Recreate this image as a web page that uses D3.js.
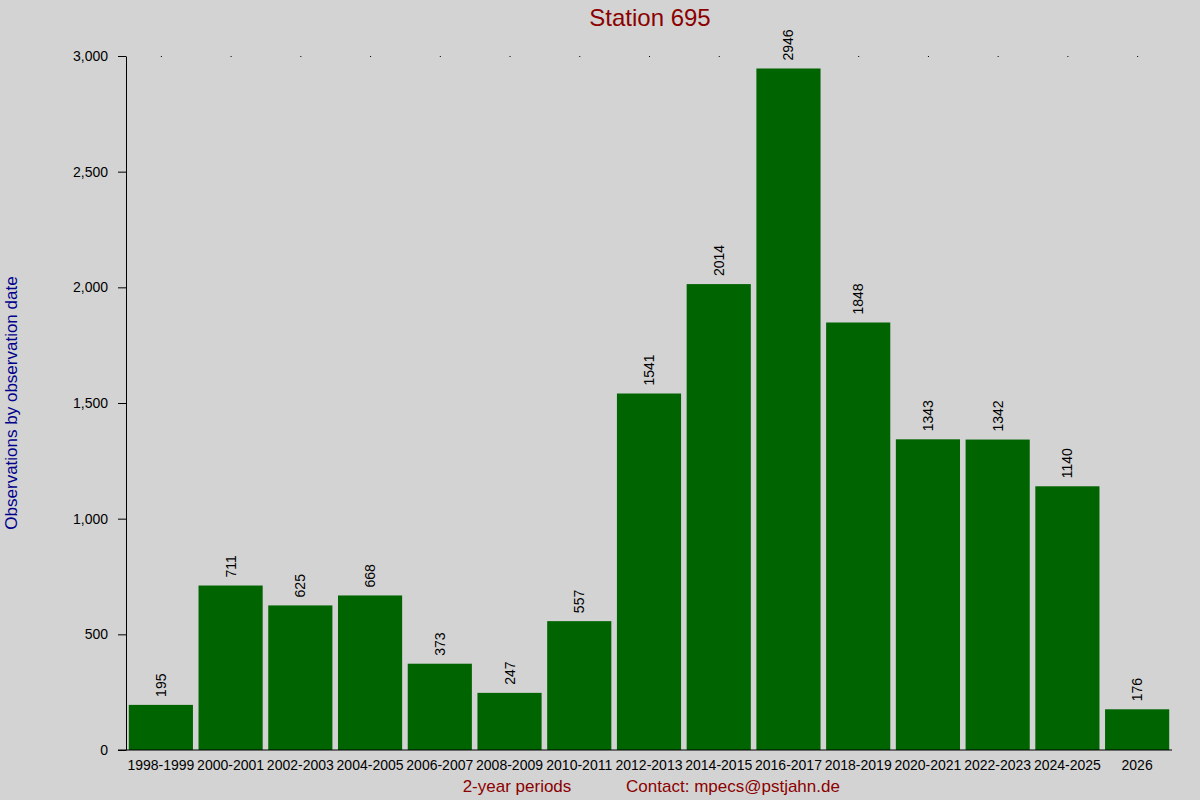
<!DOCTYPE html>
<html>
<head>
<meta charset="utf-8">
<script src="https://cdn.jsdelivr.net/npm/d3@7"></script>
<style>
body { margin: 0; background: #d3d3d3; }
text { font-family: "Liberation Sans", Arial, sans-serif; }
</style>
</head>
<body>
<svg id="chart" width="1200" height="800"></svg>
<script>
const periods = ['1998-1999', '2000-2001', '2002-2003', '2004-2005', '2006-2007', '2008-2009', '2010-2011',
  '2012-2013', '2014-2015', '2016-2017', '2018-2019', '2020-2021', '2022-2023', '2024-2025', '2026'];
const counts = [195, 711, 625, 668, 373, 247, 557, 1541, 2014, 2946, 1848, 1343, 1342, 1140, 176];
const yTicks = [0, 500, 1000, 1500, 2000, 2500, 3000];

const svg = d3.select('#chart');
svg.append('rect').attr('width', 1200).attr('height', 800).attr('fill', '#d3d3d3');

const plotLeft = 126, plotRight = 1172, plotTop = 56, plotBottom = 750;

const x = d3.scaleBand().domain(periods).range([plotLeft, plotRight]).paddingInner(0.08).paddingOuter(0.04);
const y = d3.scaleLinear().domain([0, 3000]).range([plotBottom, plotTop]);

// bars
svg.selectAll('.bar')
  .data(counts)
  .enter().append('rect')
  .attr('x', (d, i) => x(periods[i]))
  .attr('y', d => y(d))
  .attr('width', x.bandwidth())
  .attr('height', d => plotBottom - y(d))
  .attr('fill', '#006400');

// value labels
svg.selectAll('.val')
  .data(counts)
  .enter().append('text')
  .attr('transform', (d, i) => `translate(${x(periods[i]) + x.bandwidth() / 2 + 5},${y(d) - 8}) rotate(-90)`)
  .attr('font-size', 14)
  .text(d => d);

// y axis
const yAxis = svg.append('g')
  .attr('transform', `translate(${plotLeft},0)`)
  .call(d3.axisLeft(y).tickValues(yTicks).tickSize(8).tickPadding(10).tickSizeOuter(0));
yAxis.select('.domain').attr('stroke', '#000');
yAxis.selectAll('text').attr('font-size', 14).attr('font-family', '"Liberation Sans", Arial, sans-serif');

// x axis
svg.append('line').attr('x1', plotLeft - 8).attr('x2', plotRight).attr('y1', plotBottom).attr('y2', plotBottom).attr('stroke', '#000');
svg.selectAll('.xl')
  .data(periods)
  .enter().append('text')
  .attr('x', d => x(d) + x.bandwidth() / 2)
  .attr('y', plotBottom + 20)
  .attr('text-anchor', 'middle')
  .attr('font-size', 14)
  .text(d => d);

// top dots
svg.selectAll('.dot')
  .data(periods)
  .enter().append('rect')
  .attr('x', d => x(d) + x.bandwidth() / 2)
  .attr('y', plotTop)
  .attr('width', 1).attr('height', 1)
  .attr('fill', '#000');

// titles
svg.append('text').attr('x', 650).attr('y', 26).attr('text-anchor', 'middle')
  .attr('font-size', 24).attr('fill', '#8b0000').text('Station 695');
svg.append('text').attr('transform', 'translate(17,403) rotate(-90)').attr('text-anchor', 'middle')
  .attr('font-size', 17).attr('fill', '#00008b').text('Observations by observation date');
svg.append('text').attr('x', 517).attr('y', 792).attr('text-anchor', 'middle')
  .attr('font-size', 17).attr('fill', '#8b0000').text('2-year periods');
svg.append('text').attr('x', 733).attr('y', 792).attr('text-anchor', 'middle')
  .attr('font-size', 17).attr('fill', '#8b0000').text('Contact: mpecs@pstjahn.de');
</script>
</body>
</html>
